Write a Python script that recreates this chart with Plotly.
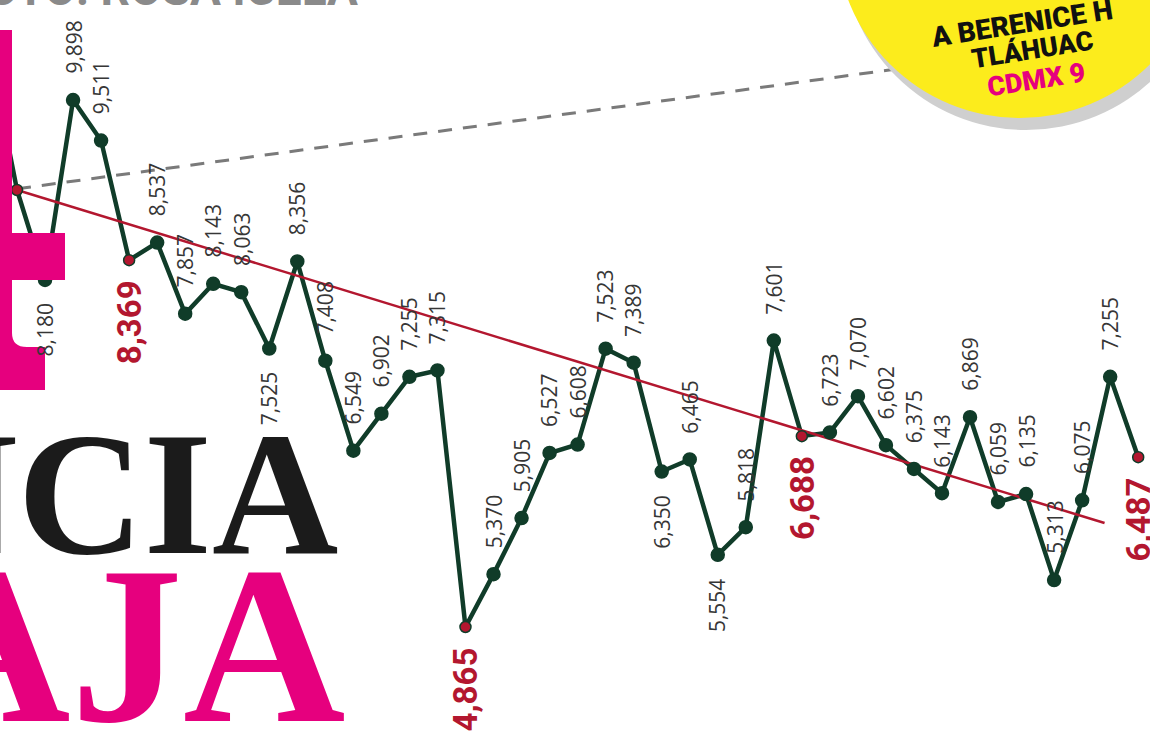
import plotly.graph_objects as go

# ---------------- data ----------------
prev_value = 10400          # point just left of the visible area (line enters from the edge)
values = [9039, 8180, 9898, 9511, 8369, 8537, 7857, 8143, 8063, 7525,
          8356, 7408, 6549, 6902, 7255, 7315, 4865, 5370, 5905, 6527,
          6608, 7523, 7389, 6350, 6465, 5554, 5818, 7601, 6688, 6723,
          7070, 6602, 6375, 6143, 6869, 6059, 6135, 5313, 6075, 7255, 6487]
highlight_idx = [0, 4, 16, 28, 40]          # red points
unlabeled_idx = [0]
below_idx = [1, 9, 23, 25]                  # grey labels placed under the point
trend_x = [0, 38.8]
trend_y = [9039, 5858]
ref_x = [0, 34]
ref_y = [9050, 10290]

W, H = 1150, 745
GREEN = "#103c29"
RED = "#b3172f"
PINK = "#e6007e"
GREY_TXT = "#363636"

def px(x):
    return x / W

def py(y):
    return 1 - y / H

xs = list(range(len(values)))

fig = go.Figure()

# dashed grey reference line
fig.add_trace(go.Scatter(x=ref_x, y=ref_y, mode="lines",
                         line=dict(color="#7a7a7a", width=3, dash="14px,11px"),
                         hoverinfo="skip", showlegend=False))
# green series line
fig.add_trace(go.Scatter(x=[-1] + xs, y=[prev_value] + values, mode="lines",
                         line=dict(color=GREEN, width=4.5),
                         hoverinfo="skip", showlegend=False))
# red trend line
fig.add_trace(go.Scatter(x=trend_x, y=trend_y, mode="lines",
                         line=dict(color=RED, width=2.5),
                         hoverinfo="skip", showlegend=False))
# markers
mcol = [RED if i in highlight_idx else GREEN for i in xs]
msize = [11 if i in highlight_idx else 13 for i in xs]
fig.add_trace(go.Scatter(x=xs, y=values, mode="markers",
                         marker=dict(color=mcol, size=msize, opacity=1,
                                     line=dict(color=GREEN, width=1.5)),
                         hoverinfo="skip", showlegend=False))

annotations = []
for i, v in enumerate(values):
    if i in unlabeled_idx:
        continue
    txt = f"{v:,}"
    if i in highlight_idx:
        annotations.append(dict(x=i, y=v, xref="x", yref="y", text=txt,
                                textangle=-90, showarrow=False,
                                yanchor="top", xanchor="center", yshift=-18,
                                font=dict(family="Roboto", size=33, color=RED, weight="bold")))
    elif i in below_idx:
        annotations.append(dict(x=i, y=v, xref="x", yref="y", text=txt,
                                textangle=-90, showarrow=False,
                                yanchor="top", xanchor="center", yshift=-22,
                                font=dict(family="Open Sans", size=21, color=GREY_TXT)))
    else:
        annotations.append(dict(x=i, y=v, xref="x", yref="y", text=txt,
                                textangle=-90, showarrow=False,
                                yanchor="bottom", xanchor="center", yshift=24,
                                font=dict(family="Open Sans", size=21, color=GREY_TXT)))

# background headline pieces (real text)
annotations += [
    dict(x=px(340), y=py(593), xref="paper", yref="paper", text="INCIDENCIA",
         showarrow=False, xanchor="right", yanchor="bottom",
         font=dict(family="Liberation Serif", size=175, color="#1b1b1b", weight="bold")),
    dict(x=px(348), y=py(772), xref="paper", yref="paper", text="BAJA",
         showarrow=False, xanchor="right", yanchor="bottom",
         font=dict(family="Liberation Serif", size=225, color=PINK, weight="bold")),
    dict(x=px(360), y=py(18), xref="paper", yref="paper", text="FOTO: ROSA ICELA",
         showarrow=False, xanchor="right", yanchor="bottom",
         font=dict(family="Roboto", size=46, color="#8a8a8a", weight="bold")),
    dict(x=px(1022), y=py(24), xref="paper", yref="paper", text="A BERENICE H",
         showarrow=False, xanchor="center", yanchor="middle", textangle=-9,
         font=dict(family="Roboto", size=28, color="#111111", weight=900)),
    dict(x=px(1032), y=py(50), xref="paper", yref="paper", text="TLÁHUAC",
         showarrow=False, xanchor="center", yanchor="middle", textangle=-9,
         font=dict(family="Roboto", size=27, color="#111111", weight=900)),
    dict(x=px(1036), y=py(80), xref="paper", yref="paper", text="CDMX 9",
         showarrow=False, xanchor="center", yanchor="middle", textangle=-9,
         font=dict(family="Roboto", size=27, color=PINK, weight=900)),
]

# decorative shapes: pink letter fragment and the yellow badge
cx, cy, r = 1020, -66, 184
t_path = ("M {},{} L {},{} L {},{} L {},{} L {},{} L {},{} L {},{} Q {},{} {},{} "
          "L {},{} L {},{} L {},{} Z").format(
    px(0), py(30), px(12), py(30), px(12), py(233), px(65), py(233), px(65), py(280),
    px(12), py(280), px(12), py(333), px(12), py(347), px(27), py(347),
    px(45), py(347), px(45), py(390), px(0), py(390))
shapes = [
    dict(type="path", path=t_path, xref="paper", yref="paper",
         fillcolor=PINK, line=dict(width=0), layer="above"),
    dict(type="circle", xref="paper", yref="paper",
         x0=px(cx - r + 6), x1=px(cx + r + 6), y0=py(cy + r + 12), y1=py(cy - r + 12),
         fillcolor="#cfcfcf", line=dict(width=0), layer="above"),
    dict(type="circle", xref="paper", yref="paper",
         x0=px(cx - r), x1=px(cx + r), y0=py(cy + r), y1=py(cy - r),
         fillcolor="#fcec1c", line=dict(width=0), layer="above"),
]

# axis ranges so that index 0 sits at x=17px, spacing 28.03px; 4865 at y=627, 0.1047px/unit
x0 = -17 / 28.03
x1 = (W - 17) / 28.03
y_top = 4865 + 627 / 0.1047
y_bot = 4865 - (H - 627) / 0.1047

fig.update_layout(
    width=W, height=H,
    margin=dict(l=0, r=0, t=0, b=0),
    paper_bgcolor="white", plot_bgcolor="white",
    xaxis=dict(range=[x0, x1], visible=False, fixedrange=True),
    yaxis=dict(range=[y_bot, y_top], visible=False, fixedrange=True),
    annotations=annotations,
    shapes=shapes,
    showlegend=False,
)

fig.write_html("out.html",
               config={"displayModeBar": False},
               post_script="document.body.style.margin='0';document.body.style.overflow='hidden';")
